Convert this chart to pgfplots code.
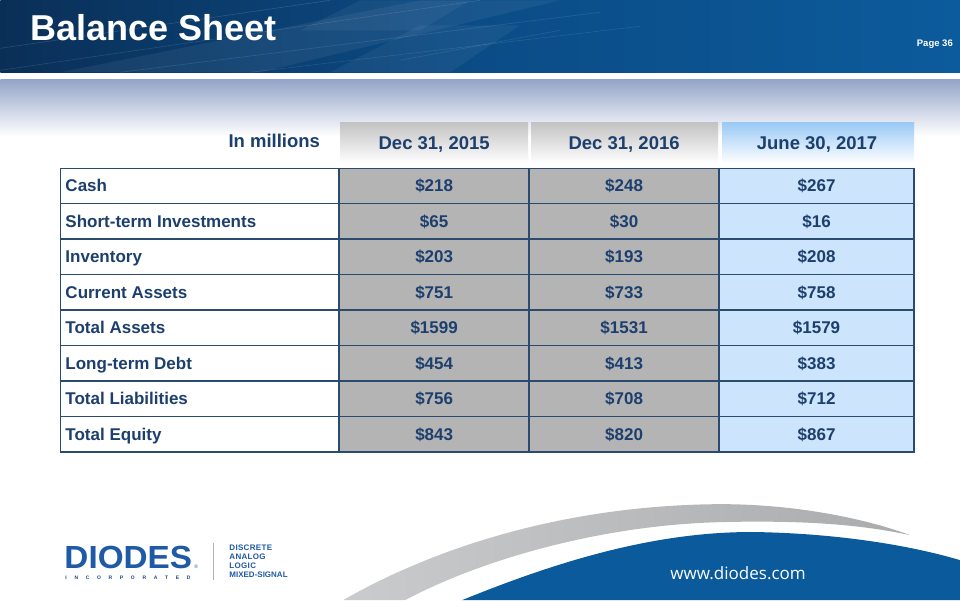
\documentclass[border=0pt]{standalone}
\usepackage{fontspec}
\setmainfont{Liberation Sans}
\newfontfamily\osans{Open Sans}
\usepackage{pgfplots}
\usepackage{pgfplotstable}
\pgfplotsset{compat=1.18}
\definecolor{hdrA}{HTML}{0A2F57}
\definecolor{hdrB}{HTML}{0B4C86}
\definecolor{hdrC}{HTML}{0C5B9C}
\definecolor{grA}{HTML}{93A4C9}
\definecolor{cellgray}{HTML}{B4B4B4}
\definecolor{cellblue}{HTML}{CCE5FC}
\definecolor{hblue}{HTML}{99C9F5}
\definecolor{hgray}{HTML}{C2C2C2}
\definecolor{txt}{HTML}{1D3F6E}
\definecolor{gridc}{HTML}{2A4B6E}
\definecolor{logo}{HTML}{1F5AA6}
\definecolor{swgray}{HTML}{BDBEC0}
\definecolor{swblue}{HTML}{0B5A9C}

\pgfplotstableread[col sep=comma]{
row,label,a,b,c
1,Cash,218,248,267
2,Short-term Investments,65,30,16
3,Inventory,203,193,208
4,Current Assets,751,733,758
5,Total Assets,1599,1531,1579
6,Long-term Debt,454,413,383
7,Total Liabilities,756,708,712
8,Total Equity,843,820,867
}\bs

\begin{document}
\begin{tikzpicture}
\begin{axis}[
  at={(0,0)}, scale only axis, width=960pt, height=600pt,
  xmin=0, xmax=960, ymin=0, ymax=600, y dir=reverse,
  hide axis, clip=false,
]
% background
\fill[white] (0,0) rectangle (960,600);
% header band
\shade[left color=hdrA, right color=hdrC, middle color=hdrB] (0,0) rectangle (960,72);
\fill[white, opacity=0.06] (60,72) -- (260,72) -- (560,0) -- (420,0) -- cycle;
\fill[white, opacity=0.05] (300,30) -- (420,30) -- (470,0) -- (360,0) -- cycle;
\fill[white, opacity=0.05] (330,72) -- (450,72) -- (520,25) -- (420,25) -- cycle;
\draw[white, opacity=0.14, line width=0.6pt] (0,48) -- (330,0);
\draw[white, opacity=0.12, line width=0.6pt] (0,70) -- (480,0);
\draw[white, opacity=0.12, line width=0.6pt] (120,72) -- (600,12);
\draw[white, opacity=0.10, line width=0.6pt] (250,72) -- (640,26);
\draw[white, opacity=0.10, line width=0.6pt] (400,60) -- (560,30);
% gradient under the band
\shade[top color=grA, bottom color=white] (0,79) rectangle (960,136);
% title and page number
\node[anchor=base west, text=white, inner sep=0pt, font=\fontsize{36}{36}\selectfont\bfseries] at (30,40) {Balance Sheet};
\node[anchor=base east, text=white, inner sep=0pt, font=\fontsize{9.5}{9.5}\selectfont\bfseries] at (953,46.5) {Page 36};
% header cells
\shade[top color=hgray, bottom color=white] (340,122) rectangle (528,163);
\shade[top color=hgray, bottom color=white] (531,122) rectangle (718,163);
\shade[top color=hblue, bottom color=white] (722,122) rectangle (914,163);
\node[anchor=base east, text=txt, inner sep=0pt, font=\fontsize{18.5}{18.5}\selectfont\bfseries] at (320,147.5) {In millions};
\node[anchor=base, text=txt, inner sep=0pt, font=\fontsize{18.5}{18.5}\selectfont\bfseries] at (434,149.5) {Dec 31, 2015};
\node[anchor=base, text=txt, inner sep=0pt, font=\fontsize{18.5}{18.5}\selectfont\bfseries] at (624,149.5) {Dec 31, 2016};
\node[anchor=base, text=txt, inner sep=0pt, font=\fontsize{18.5}{18.5}\selectfont\bfseries] at (817,149.5) {June 30, 2017};
% table cells
\fill[cellgray] (339,168) rectangle (719,452);
\fill[cellblue] (719,168) rectangle (914,452);
\draw[gridc, line width=1.5pt] (60,168) rectangle (914,452);
\draw[gridc, line width=1.5pt] (60,203.5) -- (914,203.5);
\draw[gridc, line width=1.5pt] (60,239) -- (914,239);
\draw[gridc, line width=1.5pt] (60,274.5) -- (914,274.5);
\draw[gridc, line width=1.5pt] (60,310) -- (914,310);
\draw[gridc, line width=1.5pt] (60,345.5) -- (914,345.5);
\draw[gridc, line width=1.5pt] (60,381) -- (914,381);
\draw[gridc, line width=1.5pt] (60,416.5) -- (914,416.5);
\draw[gridc, line width=1.5pt] (339,168) -- (339,452);
\draw[gridc, line width=1.5pt] (529,168) -- (529,452);
\draw[gridc, line width=1.5pt] (719,168) -- (719,452);
% row labels and values (placed at text baselines)
\addplot[draw=none, mark=none, point meta=explicit symbolic,
  nodes near coords={\pgfplotspointmeta},
  nodes near coords style={anchor=base west, inner sep=0pt, text=txt, font=\fontsize{17}{17}\selectfont\bfseries}]
  table[x expr=65, y expr=168+(\thisrow{row}-0.5)*35.5+6, meta=label] {\bs};
\addplot[draw=none, mark=none, point meta=explicit symbolic,
  nodes near coords={\$\pgfplotspointmeta},
  nodes near coords style={anchor=base, inner sep=0pt, text=txt, font=\fontsize{17}{17}\selectfont\bfseries}]
  table[x expr=434, y expr=168+(\thisrow{row}-0.5)*35.5+6, meta=a] {\bs};
\addplot[draw=none, mark=none, point meta=explicit symbolic,
  nodes near coords={\$\pgfplotspointmeta},
  nodes near coords style={anchor=base, inner sep=0pt, text=txt, font=\fontsize{17}{17}\selectfont\bfseries}]
  table[x expr=624, y expr=168+(\thisrow{row}-0.5)*35.5+6, meta=b] {\bs};
\addplot[draw=none, mark=none, point meta=explicit symbolic,
  nodes near coords={\$\pgfplotspointmeta},
  nodes near coords style={anchor=base, inner sep=0pt, text=txt, font=\fontsize{17}{17}\selectfont\bfseries}]
  table[x expr=816.5, y expr=168+(\thisrow{row}-0.5)*35.5+6, meta=c] {\bs};
% footer swooshes
\shade[left color=swgray!80!white, right color=swgray!90!black]
  (343,600) .. controls (430,550) and (560,505) .. (720,504)
  .. controls (800,504) and (870,520) .. (910,535)
  .. controls (860,524) and (800,520) .. (720,522)
  .. controls (600,525) and (480,560) .. (405,600) -- cycle;
\fill[swblue] (462,600) .. controls (560,560) and (660,530) .. (760,532)
  .. controls (850,534) and (920,548) .. (960,560) -- (960,600) -- cycle;
\node[text=white, inner sep=0pt, font=\osans\fontsize{17}{17}\selectfont] at (738,573) {www.diodes.com};
% logo
\node[anchor=base west, inner sep=0pt, text=logo, xscale=1.04, font=\fontsize{32}{32}\selectfont\bfseries] at (64,568) {DIODES};
\node[anchor=base west, inner sep=0pt, text=logo, font=\fontsize{5}{5}\selectfont] at (194,568) {\textregistered};
\node[anchor=base west, inner sep=0pt, text=logo!80!black, font=\fontsize{5}{5}\selectfont\bfseries] at (65,579)
  {\makebox[125pt][s]{I\hfil N\hfil C\hfil O\hfil R\hfil P\hfil O\hfil R\hfil A\hfil T\hfil E\hfil D}};
\draw[gray!60, line width=0.8pt] (213,543) -- (213,580);
\node[anchor=west, inner sep=0pt, text=logo, font=\fontsize{8}{8}\selectfont\bfseries\addfontfeature{LetterSpace=4}] at (229,548) {DISCRETE};
\node[anchor=west, inner sep=0pt, text=logo, font=\fontsize{8}{8}\selectfont\bfseries\addfontfeature{LetterSpace=4}] at (229,557) {ANALOG};
\node[anchor=west, inner sep=0pt, text=logo, font=\fontsize{8}{8}\selectfont\bfseries\addfontfeature{LetterSpace=4}] at (229,566) {LOGIC};
\node[anchor=west, inner sep=0pt, text=logo, font=\fontsize{8}{8}\selectfont\bfseries] at (229,575) {MIXED-SIGNAL};
\end{axis}
\end{tikzpicture}
\end{document}
